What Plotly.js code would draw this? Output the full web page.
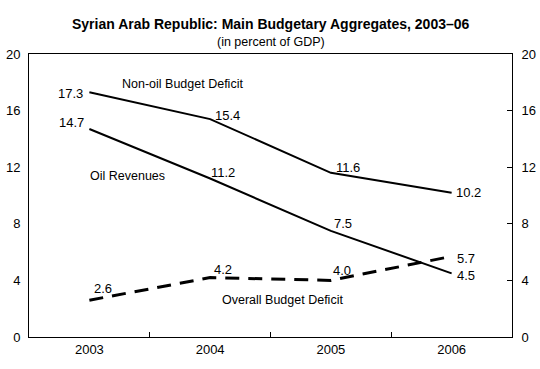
<!DOCTYPE html>
<html><head><meta charset="utf-8">
<script src="https://cdn.plot.ly/plotly-3.0.1.min.js"></script>
<style>html,body{margin:0;padding:0;background:#fff}#chart{width:540px;height:369px}</style>
</head><body><div id="chart"></div>
<script>
const years = ["2003", "2004", "2005", "2006"];
const nonOilDeficit = [17.3, 15.4, 11.6, 10.2];
const oilRevenues = [14.7, 11.2, 7.5, 4.5];
const overallDeficit = [2.6, 4.2, 4.0, 5.7];
const yTicks = [0, 4, 8, 12, 16, 20];

const F = "Liberation Sans, Arial, sans-serif";
const traces = [
  {x: years, y: nonOilDeficit, mode: "lines", line: {color: "#000", width: 2}, hoverinfo: "skip"},
  {x: years, y: oilRevenues, mode: "lines", line: {color: "#000", width: 2}, hoverinfo: "skip"},
  {x: years, y: overallDeficit, mode: "lines", line: {color: "#000", width: 3, dash: "14px,9px"}, hoverinfo: "skip"},
  {x: years, y: overallDeficit, mode: "lines", yaxis: "y2", line: {width: 0}, opacity: 0, hoverinfo: "skip"},
  {x: years, y: overallDeficit, mode: "lines", yaxis: "y3", line: {width: 0}, opacity: 0, hoverinfo: "skip"}
];

// label offsets (pixels) per series per point
const offs = {
  non: [[-19, -1], [17, 4], [17, 5], [17, 0]],
  oil: [[-18, 7], [13, 6], [12, 7], [14, -2]],
  ovr: [[14, 12], [13, 8], [11, 10], [14, -2]]
};
const ann = [];
function addLabels(vals, o) {
  vals.forEach((v, i) => ann.push({x: i, y: v, xref: "x", yref: "y", text: v.toFixed(1),
    showarrow: false, xshift: o[i][0], yshift: o[i][1], font: {family: F, size: 13, color: "#000"}}));
}
addLabels(nonOilDeficit, offs.non);
addLabels(oilRevenues, offs.oil);
addLabels(overallDeficit, offs.ovr);
ann.push({xref: "paper", yref: "paper", x: 0.5, y: 1, yanchor: "middle", yshift: 30, text: "<b>Syrian Arab Republic: Main Budgetary Aggregates, 2003–06</b>", showarrow: false, font: {family: F, size: 14, color: "#000"}});
ann.push({xref: "paper", yref: "paper", x: 0.5, y: 1, yanchor: "middle", yshift: 12, text: "(in percent of GDP)", showarrow: false, font: {family: F, size: 12.5, color: "#000"}});
ann.push({xref: "x", yref: "y", x: 1, y: 17.9, xshift: -28, text: "Non-oil Budget Deficit", showarrow: false, font: {family: F, size: 12.5, color: "#000"}});
ann.push({xref: "x", yref: "y", x: 0, y: 11.4, xshift: 38, text: "Oil Revenues", showarrow: false, font: {family: F, size: 12.5, color: "#000"}});
ann.push({xref: "x", yref: "y", x: 2, y: 2.6, xshift: -48, text: "Overall Budget Deficit", showarrow: false, font: {family: F, size: 12.5, color: "#000"}});

const layout = {
  width: 540, height: 369,
  margin: {l: 29, r: 28, t: 54, b: 32},
  paper_bgcolor: "#fff", plot_bgcolor: "#fff",
  showlegend: false,
  font: {family: F, size: 13, color: "#000"},
  xaxis: {type: "category", range: [-0.5, 3.5], showgrid: false, zeroline: false,
    showline: true, linecolor: "#000", linewidth: 1, mirror: true,
    ticks: "inside", tickson: "boundaries", ticklen: 5, tickcolor: "#000",
    tickfont: {family: F, size: 13}},
  yaxis: {range: [0, 20], tickvals: yTicks, showgrid: false, zeroline: false,
    showline: true, linecolor: "#000", linewidth: 1, mirror: true,
    ticks: "outside", ticklen: 5, tickcolor: "rgba(0,0,0,0)",
    tickfont: {family: F, size: 13}},
  yaxis2: {range: [0, 20], tickvals: yTicks, overlaying: "y", side: "right", showgrid: false, zeroline: false,
    showline: false, ticks: "outside", ticklen: 6, tickcolor: "rgba(0,0,0,0)",
    tickfont: {family: F, size: 13}},
  yaxis3: {range: [0, 20], tickvals: yTicks, overlaying: "y", side: "right", showgrid: false, zeroline: false,
    showline: false, ticks: "inside", ticklen: 5, tickcolor: "#000", showticklabels: false},
  annotations: ann
};
Plotly.newPlot("chart", traces, layout, {staticPlot: true});
</script></body></html>
